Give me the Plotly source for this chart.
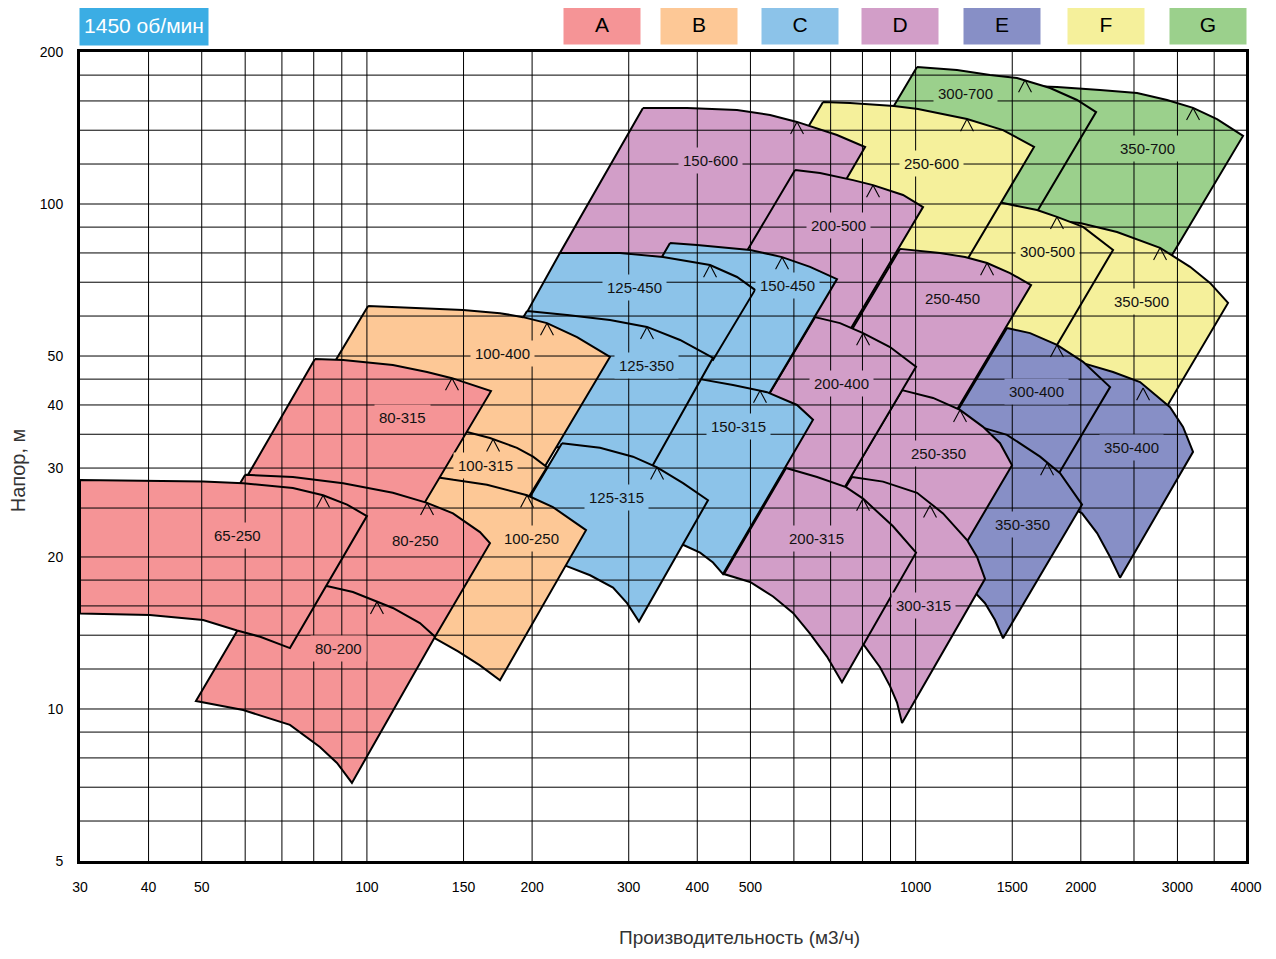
import numpy as np
import plotly.graph_objects as go

# ---------------- data (flow m3/h, head m) ----------------
GROUPS = ["A", "B", "C", "D", "E", "F", "G"]
GROUP_COLORS = ["#F59496", "#FDC896", "#8CC3E9", "#D29EC8", "#878FC6", "#F5F09B", "#9BD08C"]

# outlines: top curve left->right, then bottom curve right->left
P65_250_Q = [30, 50.3, 59.5, 73.3, 83.2, 92.0, 100.0, 72.4, 63.9, 58.0, 50.3, 40.2, 30]
P65_250_H = [28.4, 28.2, 28.0, 27.4, 26.5, 25.4, 24.1, 13.2, 13.9, 14.3, 15.0, 15.35, 15.45]
P80_200_Q = [65.5, 84.9, 94.3, 104.3, 111.5, 124.9, 133.1, 93.9, 88.2, 82.1, 72.4, 59.5, 48.8]
P80_200_H = [17.85, 17.5, 17.05, 16.3, 15.85, 14.8, 13.9, 7.14, 7.82, 8.41, 9.30, 9.95, 10.37]
P80_250_Q = [60.0, 73.3, 90.5, 111.5, 128.7, 143.5, 160.7, 167.6, 133.1, 114.9, 93.2, 75.5, 44.1]
P80_250_H = [29.1, 28.8, 28.0, 26.8, 25.6, 24.4, 22.4, 21.3, 13.9, 15.0, 16.3, 16.6, 16.6]
P80_315_Q = [80.4, 90.5, 111.5, 128.7, 142.9, 160.7, 168.3, 127.1, 111.5, 90.5, 59.5]
P80_315_H = [49.3, 49.1, 48.0, 46.5, 45.2, 43.4, 42.6, 25.5, 26.4, 27.5, 28.0]
P100_250_Q = [105.6, 135.9, 165.5, 195.8, 218.3, 250.8, 174.8, 160.7, 146.6, 133.1, 114.9, 85.6]
P100_250_H = [29.7, 28.7, 27.8, 26.5, 25.1, 22.6, 11.4, 12.2, 13.0, 13.8, 14.9, 16.4]
P100_315_Q = [114.9, 151.6, 167.6, 187.7, 200.8, 212.9, 193.4, 160.7, 97.1]
P100_315_H = [36.0, 35.4, 34.4, 32.9, 31.6, 30.1, 25.4, 25.9, 26.5]
P100_400_Q = [100.5, 149.7, 174.8, 192.5, 212.9, 241.5, 277.3, 201.6, 160.7, 124.9, 70.9]
P100_400_H = [62.8, 61.7, 60.8, 59.7, 58.1, 54.5, 49.8, 27.8, 30.8, 32.3, 33.3]
P125_315_Q = [226.7, 265.9, 305.4, 337.9, 376.8, 418.4, 313.2, 297.9, 280.9, 255.1, 230.6, 198.3, 173.4]
P125_315_H = [33.6, 32.9, 31.6, 30.1, 28.0, 25.9, 14.9, 16.2, 17.4, 18.4, 19.2, 20.2, 20.6]
P125_350_Q = [195.8, 231.6, 277.3, 323.9, 372.1, 427.3, 328.0, 265.9, 226.7, 139.4]
P125_350_H = [61.4, 60.3, 58.9, 57.1, 53.8, 49.6, 29.7, 32.3, 33.0, 33.0]
P125_450_Q = [224.8, 289.2, 346.4, 422.0, 472.6, 509.7, 427.3, 372.1, 323.9, 234.5, 195.8]
P125_450_H = [80.0, 80.0, 78.5, 75.7, 71.7, 67.6, 49.1, 53.3, 56.0, 60.0, 61.1]
P150_315_Q = [404.7, 464.7, 536.0, 607.9, 650.1, 445.6, 427.3, 404.7, 378.4, 328.0, 273.9]
P150_315_H = [45.0, 43.8, 42.4, 40.0, 37.4, 18.5, 19.5, 20.4, 21.1, 22.1, 22.1]
P150_450_Q = [356.8, 399.6, 499.2, 570.9, 642.0, 718.9, 529.3, 464.7, 404.7, 247.6]
P150_450_H = [83.7, 83.0, 81.1, 78.5, 75.1, 71.0, 40.5, 42.1, 42.4, 42.4]
P150_600_Q = [318.5, 383.2, 472.6, 542.8, 607.9, 718.9, 808.9, 626.1, 499.2, 356.8, 224.8]
P150_600_H = [155.0, 155.0, 153.6, 150.1, 145.4, 137.0, 129.7, 80.4, 80.4, 76.8, 80.0]
P200_315_Q = [580.6, 661.2, 746.6, 802.0, 909.5, 1001.6, 734.1, 689.3, 642.0, 597.8, 549.7, 499.2, 447.5]
P200_315_H = [30.0, 28.8, 27.5, 26.1, 23.0, 20.4, 11.3, 12.7, 14.1, 15.5, 16.7, 17.85, 18.5]
P200_400_Q = [655.6, 728.0, 802.0, 898.0, 1001.6, 728.0, 430.9]
P200_400_H = [59.7, 58.1, 55.5, 52.1, 47.6, 26.5, 27.8]
P200_500_Q = [602.9, 669.5, 768.9, 836.2, 948.4, 1031.6, 740.4, 655.6, 404.7]
P200_500_H = [116.8, 115.2, 111.5, 109.0, 104.2, 98.6, 53.8, 56.3, 56.3]
P250_350_Q = [944.5, 1075.7, 1204.7, 1327.0, 1424.9, 1498.6, 1184.6, 861.1, 650.1]
P250_350_H = [42.8, 41.3, 39.1, 36.2, 33.6, 30.4, 19.7, 21.1, 21.6]
P250_450_Q = [936.5, 1107.6, 1230.3, 1349.5, 1485.9, 1623.1, 1160.0, 956.5, 642.0]
P250_450_H = [81.5, 80.0, 78.5, 76.4, 73.0, 69.1, 37.4, 40.9, 40.9]
P300_315_Q = [765.7, 872.1, 1005.8, 1121.7, 1240.6, 1293.9, 1338.1, 944.5, 924.9, 898.0, 861.1, 802.0, 743.5, 615.6]
P300_315_H = [28.8, 28.2, 26.8, 24.4, 21.6, 20.0, 18.1, 9.38, 10.3, 11.1, 12.1, 13.45, 14.7, 19.7]
P300_400_Q = [1467.2, 1616.4, 1809.5, 2019.0, 2261.3, 1773.3, 1424.9, 1094.0]
P300_400_H = [56.8, 55.5, 52.6, 48.7, 43.4, 27.8, 33.3, 33.3]
P350_350_Q = [1155.2, 1310.2, 1467.2, 1685.5, 1833.2, 2010.2, 1443.1, 1395.4, 1338.1, 1283.0, 1107.6, 815.6]
P350_350_H = [37.4, 36.2, 34.9, 31.6, 29.3, 25.4, 13.8, 15.0, 16.2, 17.0, 18.4, 19.7]
P350_400_Q = [1833.2, 2019.0, 2289.7, 2564.4, 2908.5, 3071.3, 3203.0, 2357.8, 2261.3, 2141.2, 2010.2, 1758.1, 1293.9]
P350_400_H = [50.2, 48.4, 46.5, 44.4, 39.6, 36.2, 32.3, 18.2, 20.0, 22.3, 24.4, 26.5, 26.5]
P250_600_Q = [678.0, 759.2, 913.3, 1010.0, 1240.6, 1443.1, 1643.7, 1194.8, 861.1, 456.9]
P250_600_H = [159.2, 158.5, 156.4, 154.2, 147.3, 140.1, 129.7, 72.3, 77.5, 77.5]
P300_500_Q = [1204.7, 1412.9, 1664.3, 1809.5, 2019.0, 2289.7, 1743.5, 1485.9, 829.3]
P300_500_H = [103.7, 100.9, 97.3, 94.3, 90.1, 81.1, 49.1, 52.6, 52.6]
P350_500_Q = [1758.1, 1993.5, 2328.0, 2788.9, 3163.0, 3439.4, 3709.6, 2707.8, 2167.9, 1121.7]
P350_500_H = [92.9, 91.7, 88.0, 81.9, 75.1, 69.8, 63.7, 35.7, 40.9, 40.9]
P300_700_Q = [1005.8, 1189.6, 1366.6, 1530.2, 1758.1, 1968.4, 2132.3, 1609.7, 1204.7, 722.0]
P300_700_H = [186.7, 184.2, 180.1, 177.6, 169.7, 160.7, 152.1, 90.9, 101.8, 101.8]
P350_700_Q = [1424.9, 1809.5, 2167.9, 2532.3, 2871.9, 3203.0, 3541.5, 3951.0, 2824.5, 2167.9, 898.0]
P350_700_H = [172.1, 170.5, 168.2, 165.9, 160.7, 155.0, 147.3, 136.4, 74.0, 76.8, 74.0]

# pump names, their group, label position and best-efficiency point
PUMP_NAMES = ["350-700", "300-700",
              "350-500", "300-500", "250-600",
              "350-400", "300-400", "350-350",
              "150-600", "250-450", "200-500", "250-350", "300-315", "200-400", "200-315",
              "150-450", "125-450", "150-315", "125-350", "125-315",
              "100-400", "100-315", "100-250",
              "80-315", "80-250", "80-200", "65-250"]
PUMP_GROUP = ["G", "G", "F", "F", "F", "E", "E", "E",
              "D", "D", "D", "D", "D", "D", "D",
              "C", "C", "C", "C", "C", "B", "B", "B", "A", "A", "A", "A"]
LABEL_Q = [2640.9, 1230.3, 2575.6, 1735.9, 1066.8, 2469.9, 1657.4, 1569.1,
           422.0, 1165.0, 722.0, 1098.6, 1031.6, 734.1, 658.4,
           583.0, 308.0, 474.6, 323.9, 284.4, 177.0, 164.8, 199.1,
           115.9, 122.4, 88.6, 58.0]
LABEL_H = [129.1, 165.9, 64.0, 80.4, 120.5, 32.9, 42.6, 23.2,
           121.7, 64.9, 90.5, 32.0, 16.0, 44.2, 21.8,
           69.1, 68.2, 36.3, 47.8, 26.2, 50.5, 30.3, 21.8,
           37.7, 21.6, 13.15, 22.1]
BEP_Q = [3203.0, 1582.5, 2788.9, 1809.5, 1240.6, 2597.1, 1809.5, 1735.9,
         607.9, 1349.5, 836.2, 1204.7, 1062.2, 802.0, 802.0,
         570.9, 422.0, 520.4, 323.9, 337.9, 212.9, 169.8, 195.8,
         142.9, 128.7, 104.3, 83.2]
BEP_H = [155.0, 176.0, 81.9, 94.3, 147.3, 43.2, 52.6, 30.7,
         145.4, 76.4, 109.0, 39.1, 25.3, 55.5, 26.1,
         78.5, 75.7, 42.7, 57.1, 30.1, 58.1, 34.2, 26.5,
         45.2, 25.6, 16.3, 26.5]

OUTLINES = {
    "65-250": (P65_250_Q, P65_250_H), "80-200": (P80_200_Q, P80_200_H),
    "80-250": (P80_250_Q, P80_250_H), "80-315": (P80_315_Q, P80_315_H),
    "100-250": (P100_250_Q, P100_250_H), "100-315": (P100_315_Q, P100_315_H),
    "100-400": (P100_400_Q, P100_400_H), "125-315": (P125_315_Q, P125_315_H),
    "125-350": (P125_350_Q, P125_350_H), "125-450": (P125_450_Q, P125_450_H),
    "150-315": (P150_315_Q, P150_315_H), "150-450": (P150_450_Q, P150_450_H),
    "150-600": (P150_600_Q, P150_600_H), "200-315": (P200_315_Q, P200_315_H),
    "200-400": (P200_400_Q, P200_400_H), "200-500": (P200_500_Q, P200_500_H),
    "250-350": (P250_350_Q, P250_350_H), "250-450": (P250_450_Q, P250_450_H),
    "300-315": (P300_315_Q, P300_315_H), "300-400": (P300_400_Q, P300_400_H),
    "350-350": (P350_350_Q, P350_350_H), "350-400": (P350_400_Q, P350_400_H),
    "250-600": (P250_600_Q, P250_600_H), "300-500": (P300_500_Q, P300_500_H),
    "350-500": (P350_500_Q, P350_500_H), "300-700": (P300_700_Q, P300_700_H),
    "350-700": (P350_700_Q, P350_700_H),
}

GRID_Q = [40, 50, 60, 70, 80, 90, 100, 150, 200, 300, 400, 500, 600, 700, 800, 900,
          1000, 1500, 2000, 2500, 3000, 3500]
GRID_H = [6, 7, 8, 9, 10, 12, 14, 16, 18, 20, 25, 30, 35, 40, 45, 50, 60, 70, 80, 90,
          100, 120, 140, 160, 180]
X_TICKS = [30, 40, 50, 100, 150, 200, 300, 400, 500, 1000, 1500, 2000, 3000, 4000]
Y_TICKS = [5, 10, 20, 30, 40, 50, 100, 200]
Q_RANGE = [30, 4000]
H_RANGE = [5, 200]

FONT = "Liberation Sans, Arial, sans-serif"
color_of = dict(zip(GROUPS, GROUP_COLORS))

fig = go.Figure()

# filled pump regions (drawn from the back to the front)
for name, grp in zip(PUMP_NAMES, PUMP_GROUP):
    q, h = OUTLINES[name]
    fig.add_trace(go.Scatter(
        x=list(q) + [q[0]], y=list(h) + [h[0]], mode="lines", fill="toself",
        fillcolor=color_of[grp], line=dict(color="black", width=2),
        hoverinfo="skip", showlegend=False))

# best-efficiency chevrons: two legs per point
for ang in (28, -28):
    fig.add_trace(go.Scatter(
        x=BEP_Q, y=BEP_H, mode="markers", hoverinfo="skip", showlegend=False,
        marker=dict(symbol="line-ns", size=9.8, angle=ang, standoff=6.9,
                    line=dict(color="black", width=1.1), color="black")))

shapes = []
for g in GRID_Q:
    shapes.append(dict(type="line", xref="x", yref="paper", x0=g, x1=g, y0=0, y1=1,
                       line=dict(color="black", width=1), layer="above"))
for g in GRID_H:
    shapes.append(dict(type="line", xref="paper", yref="y", x0=0, x1=1, y0=g, y1=g,
                       line=dict(color="black", width=1), layer="above"))

annotations = []
for name, grp, lq, lh in zip(PUMP_NAMES, PUMP_GROUP, LABEL_Q, LABEL_H):
    annotations.append(dict(x=np.log10(lq), y=np.log10(lh), xref="x", yref="y",
                            text=name, showarrow=False, bgcolor=color_of[grp],
                            borderpad=4, font=dict(family=FONT, size=15, color="#111")))

# speed box and group key
annotations.append(dict(x=0.0552, y=1.0334, xref="paper", yref="paper", text="1450 об/мин",
                        showarrow=False, bgcolor="#3BADE4", width=128, height=40,
                        borderpad=0, xanchor="center", yanchor="middle",
                        font=dict(family=FONT, size=21, color="white")))
KEY_X = [0.4477, 0.5305, 0.6171, 0.7033, 0.7907, 0.8799, 0.9674]
for grp, col, kx in zip(GROUPS, GROUP_COLORS, KEY_X):
    annotations.append(dict(x=kx, y=1.0346, xref="paper", yref="paper", text=grp,
                            showarrow=False, bgcolor=col, width=76, height=40, borderpad=0,
                            xanchor="center", yanchor="middle",
                            font=dict(family=FONT, size=21, color="black")))

# axis titles (placed as in the original, x title is right of centre)
annotations.append(dict(x=0.566, y=-0.1095, xref="paper", yref="paper",
                        text="Производительность (м3/ч)", showarrow=False,
                        xanchor="center", yanchor="bottom",
                        font=dict(family=FONT, size=19, color="#333")))
annotations.append(dict(x=-0.0532, y=0.483, xref="paper", yref="paper",
                        text="Напор, м", showarrow=False, textangle=-90,
                        xanchor="center", yanchor="middle",
                        font=dict(family=FONT, size=20, color="#333")))

# the page adds an 8 px body margin, so the figure is trimmed by that amount
fig.update_layout(
    width=1260, height=943, margin=dict(l=72, r=22, t=44, b=90),
    paper_bgcolor="white", plot_bgcolor="white", showlegend=False,
    shapes=shapes, annotations=annotations, font=dict(family=FONT, color="black"),
    xaxis=dict(type="log", range=[np.log10(Q_RANGE[0]), np.log10(Q_RANGE[1])],
               tickvals=X_TICKS, ticktext=[str(v) for v in X_TICKS],
               showgrid=False, zeroline=False, showline=True, mirror=True,
               linecolor="black", linewidth=3, ticks="outside", ticklen=11,
               tickcolor="rgba(0,0,0,0)", tickfont=dict(family=FONT, size=14),
               automargin=False),
    yaxis=dict(type="log", range=[np.log10(H_RANGE[0]), np.log10(H_RANGE[1])],
               tickvals=Y_TICKS, ticktext=[str(v) for v in Y_TICKS],
               showgrid=False, zeroline=False, showline=True, mirror=True,
               linecolor="black", linewidth=3, ticks="outside", ticklen=11,
               tickcolor="rgba(0,0,0,0)", tickfont=dict(family=FONT, size=14),
               automargin=False),
)

fig.write_html("out.html")
